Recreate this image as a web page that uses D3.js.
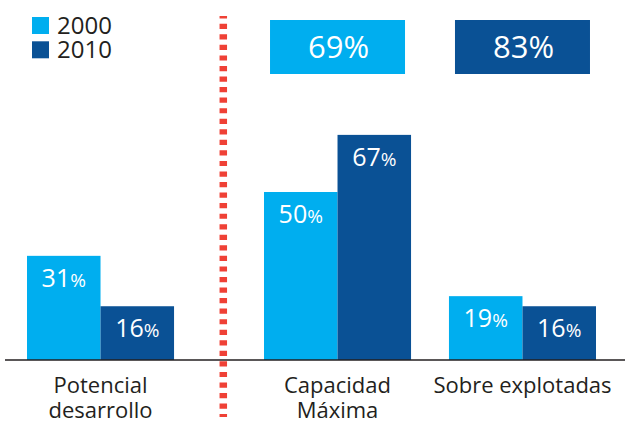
<!DOCTYPE html>
<html>
<head>
<meta charset="utf-8">
<script src="https://cdn.jsdelivr.net/npm/d3@7"></script>
<style>
  body { margin: 0; background: #fff; }
  svg text { font-family: "Open Sans", "Noto Sans", sans-serif; }
</style>
</head>
<body>
<div id="chart"></div>
<script>
// Chart data
const categories = ["Potencial desarrollo", "Capacidad Máxima", "Sobre explotadas"];
const categoryLines = [["Potencial", "desarrollo"], ["Capacidad", "Máxima"], ["Sobre explotadas"]];
const years = ["2000", "2010"];
const values2000 = [31, 50, 19];
const values2010 = [16, 67, 16];
// totals shown in the boxes (one per year), placed over the right hand groups
const totals = [69, 83];

const width = 625;
const height = 422;
const colors = ["#00aeef", "#0a5195"];

const svg = d3.select("#chart")
    .append("svg")
    .attr("width", width)
    .attr("height", height);

// left panel holds the first category, right panel the other two
const xLeft = d3.scaleBand()
    .domain(categories.slice(0, 1))
    .range([27, 174]);

const xRight = d3.scaleBand()
    .domain(categories.slice(1))
    .range([264, 596])
    .paddingInner(0.205)
    .paddingOuter(0);

const xGroup = c => categories.indexOf(c) === 0 ? xLeft(c) : xRight(c);
const bandwidth = xRight.bandwidth();

const xYear = d3.scaleBand()
    .domain(years)
    .range([0, bandwidth]);

const y = d3.scaleLinear()
    .domain([0, 100])
    .range([360, 24]);

// build rows for the bars
const rows = [];
categories.forEach((c, i) => {
    rows.push({ cat: c, year: "2000", value: values2000[i] });
    rows.push({ cat: c, year: "2010", value: values2010[i] });
});

svg.selectAll("rect.bar")
    .data(rows)
    .enter()
    .append("rect")
    .attr("class", "bar")
    .attr("x", d => xGroup(d.cat) + xYear(d.year))
    .attr("y", d => y(d.value))
    .attr("width", xYear.bandwidth())
    .attr("height", d => y(0) - y(d.value))
    .attr("fill", d => colors[years.indexOf(d.year)]);

// value labels inside the bars, smaller percent sign
const labels = svg.selectAll("text.bar-label")
    .data(rows)
    .enter()
    .append("text")
    .attr("class", "bar-label")
    .attr("x", d => xGroup(d.cat) + xYear(d.year) + xYear.bandwidth() / 2)
    .attr("y", d => y(d.value) + 31)
    .attr("text-anchor", "middle")
    .attr("fill", "#fff");
labels.append("tspan").attr("font-size", "25px").text(d => d.value);
labels.append("tspan").attr("font-size", "19px").text("%");

// baseline
svg.append("line")
    .attr("x1", 5)
    .attr("x2", width)
    .attr("y1", y(0))
    .attr("y2", y(0))
    .attr("stroke", "#231f20")
    .attr("stroke-width", 1.5);

// category labels
categoryLines.forEach((lines, i) => {
    const cx = xGroup(categories[i]) + bandwidth / 2;
    const t = svg.append("text")
        .attr("text-anchor", "middle")
        .attr("font-size", "22px")
        .attr("fill", "#231f20");
    lines.forEach((line, j) => {
        t.append("tspan")
            .attr("x", cx)
            .attr("y", 393 + j * 24.5)
            .text(line);
    });
});

// dashed separator
svg.append("line")
    .attr("x1", 223.3)
    .attr("x2", 223.3)
    .attr("y1", 16)
    .attr("y2", 417)
    .attr("stroke", "#ef4136")
    .attr("stroke-width", 7.5)
    .attr("stroke-dasharray", "5.2 5.35")
    .attr("stroke-dashoffset", 2.8);

// total boxes
const boxCats = categories.slice(1);
totals.forEach((v, i) => {
    const cx = xRight(boxCats[i]) + bandwidth / 2;
    svg.append("rect")
        .attr("x", cx - 67.5)
        .attr("y", 20)
        .attr("width", 135)
        .attr("height", 54)
        .attr("fill", colors[i]);
    svg.append("text")
        .attr("x", cx + 1)
        .attr("y", 57.5)
        .attr("text-anchor", "middle")
        .attr("font-size", "31px")
        .attr("fill", "#fff")
        .text(v + "%");
});

// legend
years.forEach((yr, i) => {
    svg.append("rect")
        .attr("x", 32)
        .attr("y", 17 + i * 24.3)
        .attr("width", 17)
        .attr("height", 17)
        .attr("fill", colors[i]);
    svg.append("text")
        .attr("x", 57)
        .attr("y", 33.5 + i * 24.3)
        .attr("font-size", "24px")
        .attr("fill", "#231f20")
        .text(yr);
});
</script>
</body>
</html>
